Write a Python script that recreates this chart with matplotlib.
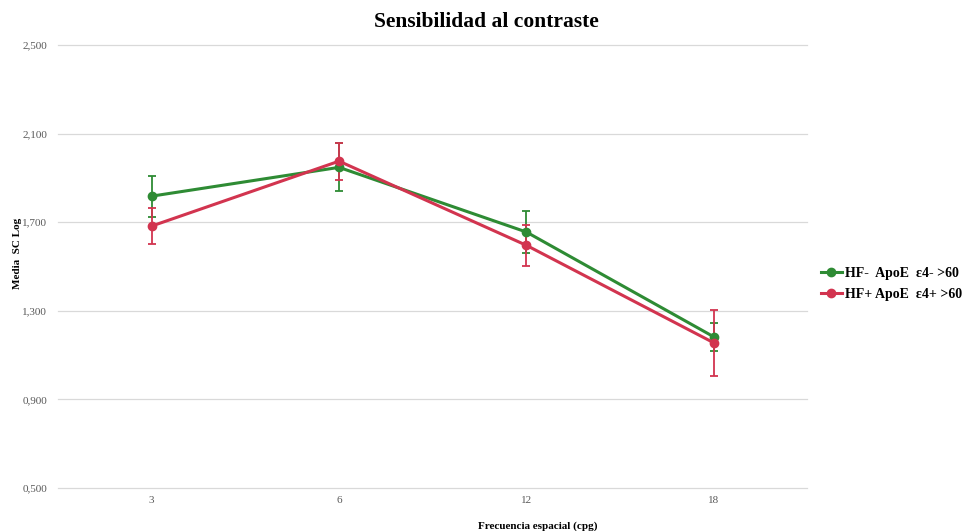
import matplotlib
matplotlib.use("Agg")
import matplotlib.pyplot as plt
from matplotlib.ticker import FuncFormatter
from matplotlib.lines import Line2D
import numpy as np

plt.rcParams['font.family'] = ['Liberation Serif', 'DejaVu Serif']

categories = ["3", "6", "12", "18"]
series_names = ["HF-  ApoE  \u03b54- >60", "HF+ ApoE  \u03b54+ >60"]
green_mean = [1.818, 1.948, 1.656, 1.183]
green_err = [0.093, 0.108, 0.093, 0.064]
red_mean = [1.683, 1.976, 1.596, 1.156]
red_err = [0.082, 0.084, 0.093, 0.148]
y_ticks = [0.5, 0.9, 1.3, 1.7, 2.1, 2.5]

green = "#2E8B34"
red = "#D2344F"

fig = plt.figure(figsize=(9.68, 5.31), dpi=100)
ax = fig.add_axes([0.06, 0.081, 0.774, 0.834])

x = np.arange(len(categories))
for mean, err, col, name in [(green_mean, green_err, green, series_names[0]),
                             (red_mean, red_err, red, series_names[1])]:
    ax.errorbar(x, mean, yerr=err, color=col, lw=2.2, marker='o', ms=6,
                capsize=3, elinewidth=1.3, capthick=1.3, label=name, zorder=3)

ax.set_xlim(-0.5, len(categories) - 0.5)
ax.set_ylim(0.5, 2.5)
ax.set_yticks(y_ticks)
ax.yaxis.set_major_formatter(FuncFormatter(lambda v, p: f"{v:.3f}".replace(".", ",")))
ax.set_xticks(x)
ax.set_xticklabels(categories)
ax.grid(axis='y', color='#d9d9d9', lw=0.9)
for gl in ax.get_ygridlines():
    gl.set_clip_on(False)
ax.set_axisbelow(True)
for s in ax.spines.values():
    s.set_visible(False)
ax.tick_params(length=0, labelsize=8, labelcolor='#595959')
ax.tick_params(axis='x', pad=6)
ax.tick_params(axis='y', pad=8)

fig.suptitle("Sensibilidad al contraste", fontsize=15.5, fontweight='bold',
             x=0.502, y=0.978)
ax.set_xlabel("Frecuencia espacial (cpg)", fontsize=8, fontweight='bold')
ax.xaxis.set_label_coords(0.64, -0.075)
ax.set_ylabel("Media  SC Log", fontsize=8, fontweight='bold')
ax.yaxis.set_label_coords(-0.048, 0.53)

h2 = [Line2D([0], [0], color=c, lw=2.2, marker='o', ms=6) for c in (green, red)]
fig.legend(h2, series_names, loc='center left', bbox_to_anchor=(0.838, 0.465),
           frameon=False, prop={'weight': 'bold', 'size': 10},
           handlelength=1.5, handletextpad=0.25, labelspacing=0.6,
           borderpad=0.2)

fig.savefig("out.png", dpi=100)
